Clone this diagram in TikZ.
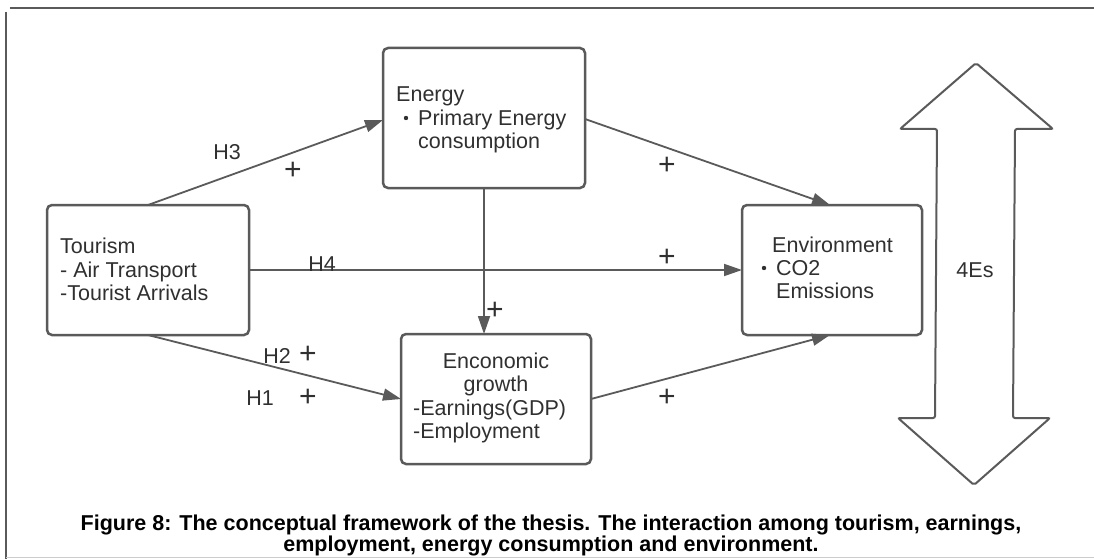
\documentclass[tikz,border=0pt]{standalone}
\usepackage{fontspec}
\setmainfont{Liberation Sans}
\usetikzlibrary{arrows.meta}
\definecolor{linegray}{HTML}{5A5A5A}
\definecolor{txtgray}{HTML}{303030}
\tikzset{
  box/.style={draw=linegray, line width=2.5pt, rounded corners=5pt, inner sep=0pt, fill=white},
  conn/.style={draw=linegray, line width=1.8pt, -{Triangle[length=18pt,width=12pt]}},
  txt/.style={text=txtgray, font=\fontsize{21.5}{24}\selectfont, inner sep=0pt, anchor=base west},
  lbl/.style={text=txtgray, font=\fontsize{21.5}{24}\selectfont, inner sep=0pt, anchor=base},
  plus/.style={text=txtgray, font=\fontsize{30}{30}\selectfont, inner sep=0pt, anchor=base},
  captxt/.style={text=black, font=\bfseries\fontsize{21.5}{22}\selectfont, inner sep=0pt, anchor=base},
  frame/.style={draw=linegray, line width=2pt},
}
\begin{document}
\begin{tikzpicture}[x=1pt,y=-1pt]
\useasboundingbox (0,0) rectangle (1094,559);
% frame
\coordinate (ft1) at (10,8); \coordinate (ft2) at (1094,8);
\coordinate (fl1) at (6,12); \coordinate (fl2) at (6,559);
\coordinate (fb1) at (6,557); \coordinate (fb2) at (1094,557);
\draw[frame] (ft1) -- (ft2);
\draw[frame] (fl1) -- (fl2);
\draw[draw=black!20, line width=1pt] (fb1) -- (fb2);
% boxes
\node[box, minimum width=202pt, minimum height=130pt] (tour) at (148,270) {};
\node[box, minimum width=202pt, minimum height=140pt] (ener) at (484,118) {};
\node[box, minimum width=190pt, minimum height=130pt] (econ) at (496,399) {};
\node[box, minimum width=180pt, minimum height=130pt] (envi) at (832,270) {};
% box texts
\node[txt] (t1) at (60,253) {Tourism};
\node[txt] (t2) at (60,277) {- Air Transport};
\node[txt] (t3) at (60,300) {-Tourist Arrivals};
\node[txt] (e1) at (396,102) {Energy};
\node[txt] (e2) at (418,125) {Primary Energy};
\node[txt] (e3) at (418,148) {consumption};
\fill[txtgray] (406,118) circle (2.2pt);
\node[lbl] (g1) at (496,368) {Enconomic};
\node[lbl] (g2) at (496,391) {growth};
\node[txt] (g3) at (413,415) {-Earnings(GDP)};
\node[txt] (g4) at (413,438) {-Employment};
\node[txt] (v1) at (772,252) {Environment};
\node[txt] (v2) at (776,275) {CO2};
\node[txt] (v3) at (776,298) {Emissions};
\fill[txtgray] (764,268) circle (2.2pt);
% connector endpoints
\coordinate (a1) at (148,205); \coordinate (a2) at (383,120);
\coordinate (b1) at (585,119); \coordinate (b2) at (830,205);
\coordinate (c1) at (249,270); \coordinate (c2) at (742,270);
\coordinate (d1) at (484,188); \coordinate (d2) at (484,334);
\coordinate (f1) at (148,335); \coordinate (f2) at (401,399);
\coordinate (h1) at (591,399); \coordinate (h2) at (830,335);
\draw[conn] (a1) -- (a2);
\draw[conn] (b1) -- (b2);
\draw[conn] (c1) -- (c2);
\draw[conn] (d1) -- (d2);
\draw[conn] (f1) -- (f2);
\draw[conn] (h1) -- (h2);
% labels
\node[lbl] (H3) at (227,159) {H3};
\node[plus] (p1) at (293,179) {+};
\node[plus] (p2) at (667,174) {+};
\node[lbl] (H4) at (322,271) {H4};
\node[plus] (p3) at (667,266) {+};
\node[plus] (p4) at (495,319) {+};
\node[lbl] (H2) at (277,363) {H2};
\node[plus] (p5) at (308,363) {+};
\node[lbl] (H1) at (260,405) {H1};
\node[plus] (p6) at (308,406) {+};
\node[plus] (p7) at (667,406) {+};
% double arrow
\draw[draw=linegray, line width=2pt, rounded corners=2pt, fill=white]
  (976,63) -- (1053,129) -- (1015,129) -- (1013,418) -- (1050,418) -- (974,485)
  -- (898,418) -- (935,418) -- (937,129) -- (900,129) -- cycle;
\node[lbl] (es) at (975,277) {4Es};
% caption
\node[captxt] (cap1) at (551,530) {Figure 8: The conceptual framework of the thesis. The interaction among tourism, earnings,};
\node[captxt] (cap2) at (551,551) {employment, energy consumption and environment.};
\end{tikzpicture}
\end{document}
